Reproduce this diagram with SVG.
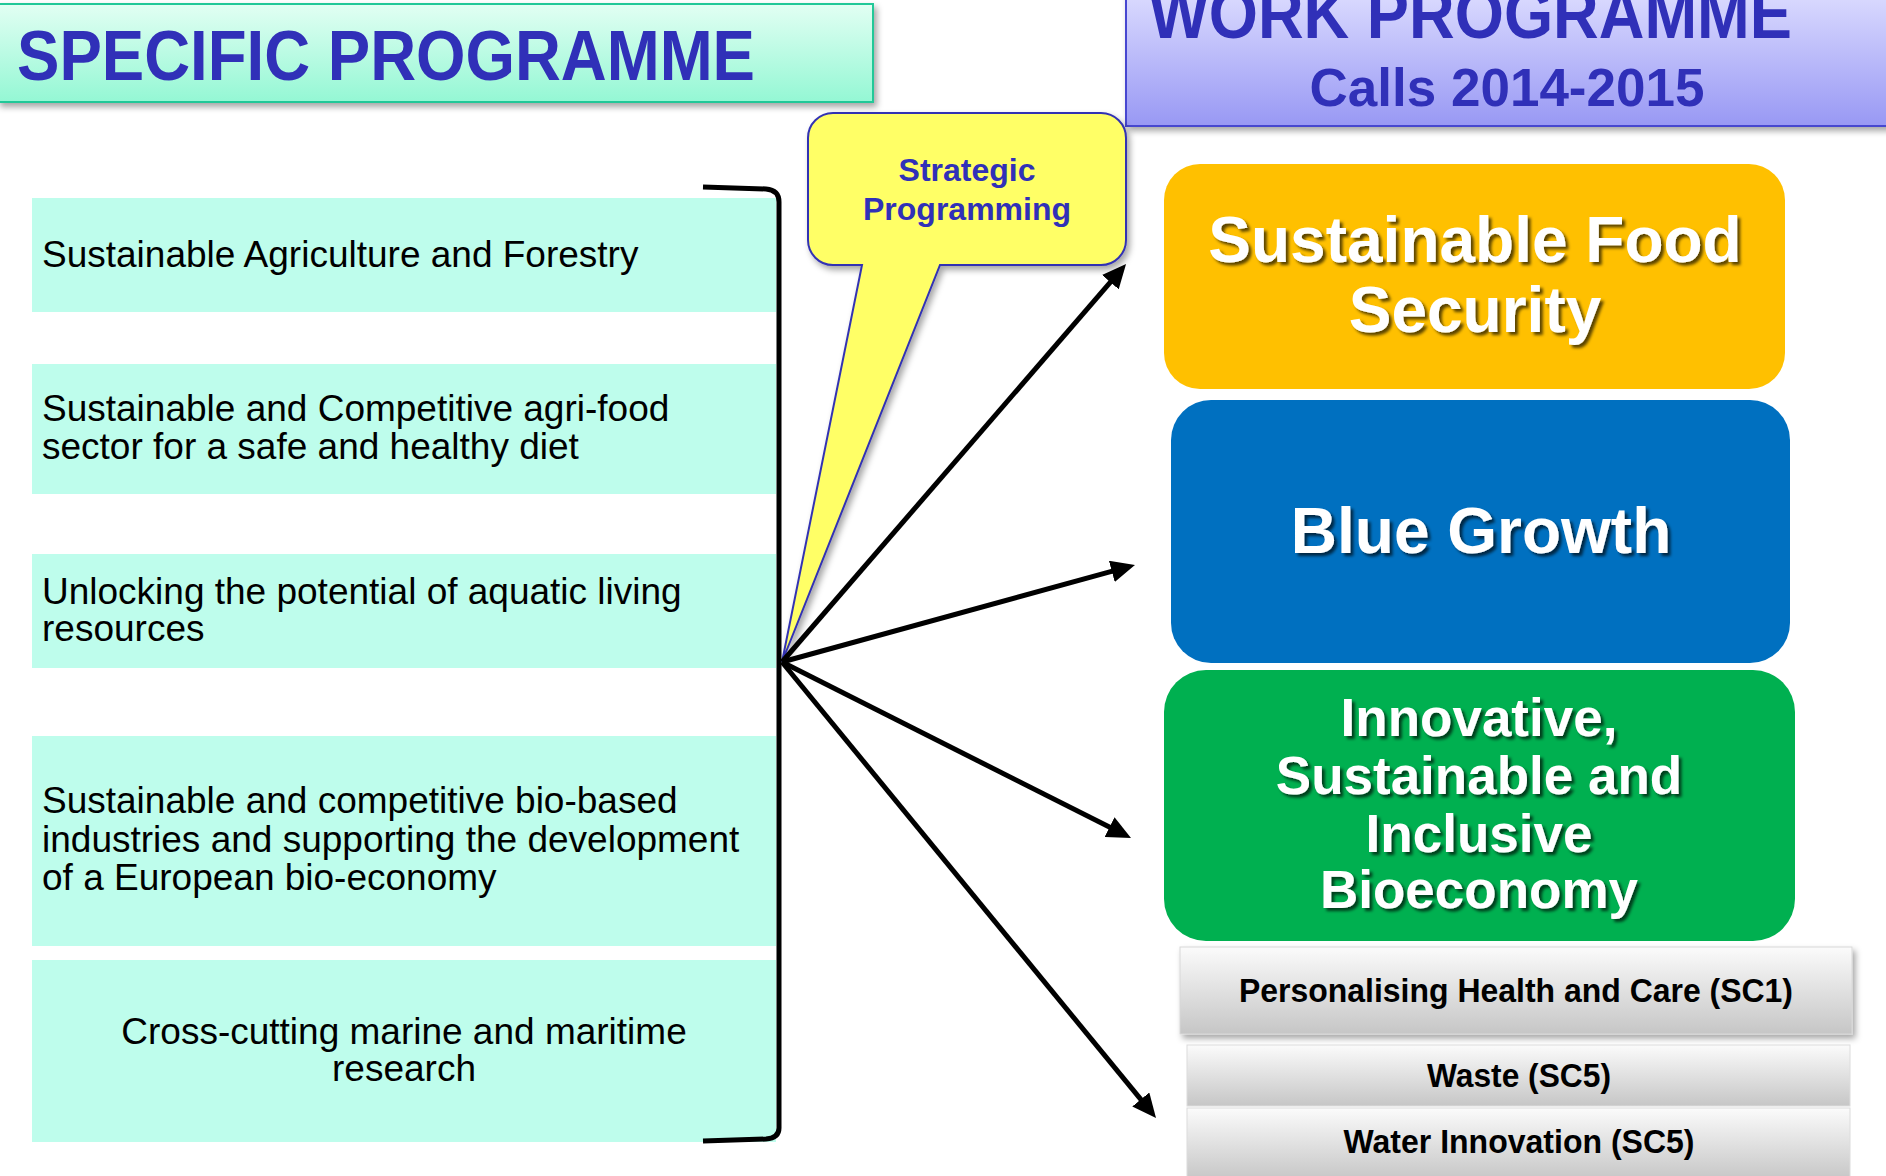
<svg xmlns="http://www.w3.org/2000/svg" width="1886" height="1176" viewBox="0 0 1886 1176">
<defs>
<linearGradient id="gSpec" x1="0" y1="0" x2="0" y2="1"><stop offset="0" stop-color="#e2fff3"/><stop offset="1" stop-color="#94f7d4"/></linearGradient>
<linearGradient id="gWork" x1="0" y1="0" x2="0" y2="1"><stop offset="0" stop-color="#dcdcff"/><stop offset="1" stop-color="#9898f4"/></linearGradient>
<linearGradient id="gGrey" x1="0" y1="0" x2="0" y2="1"><stop offset="0" stop-color="#fbfbfb"/><stop offset="1" stop-color="#c6c6c6"/></linearGradient>
<filter id="shadow" x="-5%" y="-5%" width="115%" height="125%"><feDropShadow dx="3" dy="4" stdDeviation="3" flood-color="#000" flood-opacity="0.35"/></filter>
<filter id="tshadow" x="-5%" y="-10%" width="115%" height="130%"><feDropShadow dx="3" dy="3" stdDeviation="1.5" flood-color="#000" flood-opacity="0.65"/></filter>
<marker id="arrow" markerUnits="userSpaceOnUse" markerWidth="24" markerHeight="22" viewBox="0 0 24 22" refX="12" refY="11" orient="auto"><path d="M0,0 L24,11 L0,22 Z" fill="#000"/></marker>
</defs>
<style>
.hdr{font-family:"Liberation Sans",Arial,sans-serif;font-weight:bold;fill:#3030b8}
.lt{font-family:"Liberation Sans",Arial,sans-serif;font-size:37px;fill:#000}
.mint{fill:#befdec}
.big{font-family:"Liberation Sans",Arial,sans-serif;font-weight:bold;fill:#fff;text-anchor:middle}
.gt{font-family:"Liberation Sans",Arial,sans-serif;font-weight:bold;font-size:33px;fill:#000;text-anchor:middle}
.conn{stroke:#000;stroke-width:5;fill:none}
</style>
<rect width="1886" height="1176" fill="#fff"/>

<g id="specific-header">
<rect x="-2" y="4" width="875" height="98" fill="url(#gSpec)" stroke="#22c898" stroke-width="2" filter="url(#shadow)"/>
<text class="hdr" x="17" y="80" font-size="70" textLength="738" lengthAdjust="spacingAndGlyphs">SPECIFIC PROGRAMME</text>
</g>

<g id="work-header">
<rect x="1126" y="-10" width="770" height="136" fill="url(#gWork)" stroke="#4646d0" stroke-width="2" filter="url(#shadow)"/>
<text class="hdr" x="1149" y="38" font-size="70" textLength="643" lengthAdjust="spacingAndGlyphs">WORK PROGRAMME</text>
<text class="hdr" x="1507" y="106" font-size="53" text-anchor="middle">Calls 2014-2015</text>
</g>

<g id="sp1"><rect class="mint" x="32" y="198" width="744" height="114"/>
<text class="lt" x="42" y="267">Sustainable Agriculture and Forestry</text></g>
<g id="sp2"><rect class="mint" x="32" y="364" width="744" height="130"/>
<text class="lt" x="42" y="421">Sustainable and Competitive agri-food</text>
<text class="lt" x="42" y="459">sector for a safe and healthy diet</text></g>
<g id="sp3"><rect class="mint" x="32" y="554" width="744" height="114"/>
<text class="lt" x="42" y="604">Unlocking the potential of aquatic living</text>
<text class="lt" x="42" y="641">resources</text></g>
<g id="sp4"><rect class="mint" x="32" y="736" width="744" height="210"/>
<text class="lt" x="42" y="813">Sustainable and competitive bio-based</text>
<text class="lt" x="42" y="852">industries and supporting the development</text>
<text class="lt" x="42" y="890">of a European bio-economy</text></g>
<g id="sp5"><rect class="mint" x="32" y="960" width="744" height="182"/>
<text class="lt" x="404" y="1044" text-anchor="middle">Cross-cutting marine and maritime</text>
<text class="lt" x="404" y="1081" text-anchor="middle">research</text></g>

<g id="bracket">
<path d="M703,187 L766,189 Q779,190 779,202 L779,1128 Q779,1138 766,1139 L703,1141" stroke="#000" stroke-width="5" fill="none"/>
</g>

<g id="callout">
<path d="M833,113 H1101 A25,25 0 0 1 1126,138 V240 A25,25 0 0 1 1101,265 H940 L782,662 L862,265 H833 A25,25 0 0 1 808,240 V138 A25,25 0 0 1 833,113 Z" fill="#ffff66" stroke="#3333b3" stroke-width="2" filter="url(#shadow)"/>
<text class="hdr" x="967" y="181" font-size="32" text-anchor="middle">Strategic</text>
<text class="hdr" x="967" y="220" font-size="32" text-anchor="middle">Programming</text>
</g>

<g id="food">
<rect x="1164" y="164" width="621" height="225" rx="36" fill="#ffc000"/>
<g filter="url(#tshadow)">
<text class="big" x="1475" y="262" font-size="64">Sustainable Food</text>
<text class="big" x="1475" y="332" font-size="64">Security</text></g>
</g>

<g id="blue">
<rect x="1171" y="400" width="619" height="263" rx="40" fill="#0070c0"/>
<g filter="url(#tshadow)"><text class="big" x="1481" y="553" font-size="64">Blue Growth</text></g>
</g>

<g id="bioeconomy">
<rect x="1164" y="670" width="631" height="271" rx="42" fill="#00b050"/>
<g filter="url(#tshadow)">
<text class="big" x="1479" y="736" font-size="53">Innovative,</text>
<text class="big" x="1479" y="794" font-size="53">Sustainable and</text>
<text class="big" x="1479" y="852" font-size="53">Inclusive</text>
<text class="big" x="1479" y="908" font-size="53">Bioeconomy</text></g>
</g>

<g id="sc1">
<rect x="1180" y="947" width="672" height="87" fill="url(#gGrey)" stroke="#d8d8d8" stroke-width="1" filter="url(#shadow)"/>
<text class="gt" x="1516" y="1002" textLength="554" lengthAdjust="spacingAndGlyphs">Personalising Health and Care (SC1)</text>
</g>
<g id="waste">
<rect x="1187" y="1045" width="663" height="61" fill="url(#gGrey)" stroke="#dcdcdc" stroke-width="1"/>
<text class="gt" x="1519" y="1087" textLength="184" lengthAdjust="spacingAndGlyphs">Waste (SC5)</text>
</g>
<g id="water">
<rect x="1187" y="1108" width="663" height="72" fill="url(#gGrey)" stroke="#dcdcdc" stroke-width="1"/>
<text class="gt" x="1519" y="1153" textLength="351" lengthAdjust="spacingAndGlyphs">Water Innovation (SC5)</text>
</g>

<g id="connectors">
<line class="conn" x1="782" y1="662" x2="1118.2" y2="273.1" marker-end="url(#arrow)"/>
<line class="conn" x1="782" y1="662" x2="1123.4" y2="568.2" marker-end="url(#arrow)"/>
<line class="conn" x1="782" y1="662" x2="1120.3" y2="832.6" marker-end="url(#arrow)"/>
<line class="conn" x1="782" y1="662" x2="1148.4" y2="1108.7" marker-end="url(#arrow)"/>
</g>
</svg>
